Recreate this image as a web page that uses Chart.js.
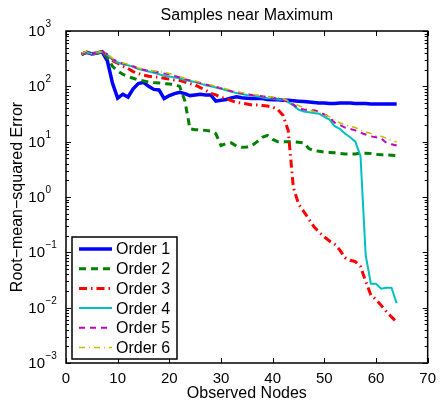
<!DOCTYPE html>
<html>
<head>
<meta charset="utf-8">
<script src="https://cdn.jsdelivr.net/npm/chart.js@4.4.1/dist/chart.umd.min.js"></script>
<style>
  html, body { margin: 0; padding: 0; background: #fff; }
  #wrap { width: 443px; height: 402px; }
</style>
</head>
<body>
<div id="wrap"><canvas id="chartRmse" width="443" height="402"></canvas></div>
<script>
// observed nodes (x)
const nodes = [3, 4, 5, 6, 7, 8, 9, 10, 11, 12, 13, 14, 15, 16, 17, 18, 19, 20, 21, 22,
  23, 24, 25, 26, 27, 28, 29, 30, 31, 32, 33, 34, 35, 36, 37, 38, 39, 40, 41, 42,
  43, 44, 45, 46, 47, 48, 49, 50, 51, 52, 53, 54, 55, 56, 57, 58, 59, 60, 61, 62, 63, 64];

const order1 = [380, 410, 385, 400, 420, 290, 114, 61, 72, 64, 90, 112, 118, 100, 88, 86, 60, 68, 74, 78,
  74, 68, 70, 72, 70, 70, 54, 56, 58, 62, 65, 62, 61, 60, 61, 60, 58, 57, 57, 56,
  56, 55, 54, 53, 52, 51, 50, 50, 49, 49, 50, 50, 50, 49, 49, 49, 48, 48, 48, 48, 48, 48];

const order2 = [380, 410, 385, 400, 420, 330, 230, 190, 165, 150, 140, 130, 125, 120, 117, 115, 112, 110, 108, 100,
  55, 17, 16.5, 16.3, 16, 15.5, 14, 8.5, 9.3, 9.5, 8.3, 7.9, 8, 8.5, 10, 12, 13, 11, 10, 10,
  10, 10, 9.8, 9.5, 7.5, 6.8, 6.7, 6.5, 6.4, 6.3, 6.1, 6.0, 6.0, 6.0, 6.2, 6.2, 6.1, 5.9, 5.8, 5.8, 5.7, 5.6];

const order3 = [380, 410, 385, 400, 420, 360, 290, 262, 230, 210, 185, 170, 160, 152, 148, 145, 140, 135, 130, 128,
  120, 112, 106, 95, 85, 75, 70, 63, 60, 55, 51, 50, 48, 46, 46, 45, 44, 42, 38, 30,
  16, 1.5, 0.75, 0.55, 0.4, 0.29, 0.23, 0.19, 0.16, 0.14, 0.11, 0.08, 0.072, 0.068, 0.055, 0.03, 0.017, 0.014, 0.011, 0.0085, 0.0068, 0.0055];

const order4 = [380, 410, 385, 400, 420, 370, 300, 270, 250, 240, 225, 205, 195, 185, 175, 165, 155, 150, 145, 140,
  130, 125, 120, 112, 105, 100, 95, 90, 85, 80, 76, 73, 70, 68, 66, 63, 61, 60, 58, 57,
  52, 45, 38, 35, 34, 33, 32, 28, 25, 19, 17, 14, 12, 10, 5.5, 0.09, 0.027, 0.027, 0.022, 0.023, 0.023, 0.012];

const order5 = [390, 420, 380, 410, 425, 380, 310, 280, 260, 245, 230, 210, 200, 190, 185, 180, 170, 165, 155, 145,
  135, 128, 122, 115, 108, 103, 98, 92, 88, 82, 78, 75, 72, 70, 68, 66, 64, 62, 60, 57,
  52, 47, 40, 38, 37, 37, 35, 31, 28, 22, 20, 18, 17, 16, 14.5, 13.5, 12.5, 12, 11.5, 9.5, 9, 8.5];

const order6 = [400, 430, 390, 415, 430, 390, 320, 285, 265, 250, 235, 215, 205, 195, 190, 185, 178, 170, 160, 150,
  140, 132, 125, 118, 112, 106, 100, 95, 90, 85, 80, 77, 74, 72, 70, 68, 66, 64, 62, 59,
  55, 50, 45, 41, 38, 35, 33, 31, 28, 24, 22, 20, 19, 18, 16, 15, 14, 13, 12.5, 11.5, 10.5, 10];

const seriesNames = ["Order 1", "Order 2", "Order 3", "Order 4", "Order 5", "Order 6"];
const seriesData = [order1, order2, order3, order4, order5, order6];

const xTicks = [0, 10, 20, 30, 40, 50, 60, 70];
const yExponents = [3, 2, 1, 0, -1, -2, -3];

// matlab-like line styles
const lineStyles = [
  { color: "#0000ff", width: 3.5, dash: [] },
  { color: "#008000", width: 3, dash: [7, 5] },
  { color: "#ff0000", width: 3, dash: [8, 4, 1.5, 4] },
  { color: "#00bfbf", width: 2, dash: [] },
  { color: "#bf00bf", width: 2, dash: [6, 5] },
  { color: "#bfbf00", width: 1.5, dash: [6, 4, 1, 4] }
];

const FONT = '"Liberation Sans", Arial, Helvetica, sans-serif';
Chart.defaults.font.family = FONT;
Chart.defaults.color = "#000";

function buildDatasets() {
  const ds = [];
  for (let i = 0; i < seriesData.length; i++) {
    const pts = [];
    for (let j = 0; j < nodes.length; j++) {
      pts.push({ x: nodes[j], y: seriesData[i][j] });
    }
    ds.push({
      label: seriesNames[i],
      data: pts,
      borderColor: lineStyles[i].color,
      borderWidth: lineStyles[i].width,
      borderDash: lineStyles[i].dash,
      pointRadius: 0,
      tension: 0,
      fill: false,
      order: seriesData.length - i // later series on top
    });
  }
  return ds;
}

function supText(n) {
  return n < 0 ? "\u2212" + Math.abs(n) : String(n);
}

// frame, inner ticks, y labels, titles, legend
const decorPlugin = {
  id: "decor",
  afterDatasetsDraw(chart) {
    const ctx = chart.ctx;
    const a = chart.chartArea;
    const xs = chart.scales.x;
    const ys = chart.scales.y;

    ctx.save();
    ctx.strokeStyle = "#000";
    ctx.lineWidth = 1;
    ctx.setLineDash([]);

    // x ticks top and bottom
    ctx.beginPath();
    for (let i = 0; i < xTicks.length; i++) {
      const px = Math.round(xs.getPixelForValue(xTicks[i])) + 0.5;
      ctx.moveTo(px, a.bottom); ctx.lineTo(px, a.bottom - 5);
      ctx.moveTo(px, a.top); ctx.lineTo(px, a.top + 5);
    }
    // y ticks, major + minor
    for (let e = -3; e <= 3; e++) {
      for (let m = 1; m <= 9; m++) {
        if (e === 3 && m > 1) break;
        const py = Math.round(ys.getPixelForValue(m * Math.pow(10, e))) + 0.5;
        const len = m === 1 ? 5 : 3;
        ctx.moveTo(a.left, py); ctx.lineTo(a.left + len, py);
        ctx.moveTo(a.right, py); ctx.lineTo(a.right - len, py);
      }
    }
    ctx.stroke();

    // box
    ctx.lineWidth = 1.5;
    ctx.strokeRect(a.left, a.top, a.right - a.left, a.bottom - a.top);

    // y tick labels 10^n
    ctx.fillStyle = "#000";
    for (let i = 0; i < yExponents.length; i++) {
      const py = ys.getPixelForValue(Math.pow(10, yExponents[i]));
      ctx.font = "15px " + FONT;
      ctx.textAlign = "right";
      ctx.textBaseline = "middle";
      ctx.fillText("10", 45, py + 1);
      ctx.font = "10px " + FONT;
      ctx.textAlign = "left";
      ctx.textBaseline = "alphabetic";
      ctx.fillText(supText(yExponents[i]), 45.5, py - 4);
    }

    // chart title
    ctx.font = "16px " + FONT;
    ctx.textAlign = "center";
    ctx.textBaseline = "middle";
    ctx.fillText("Samples near Maximum", (a.left + a.right) / 2, 16);

    // y axis title
    ctx.save();
    ctx.translate(18, (a.top + a.bottom) / 2);
    ctx.rotate(-Math.PI / 2);
    ctx.fillText("Root\u2212mean\u2212squared Error", 0, 0);
    ctx.restore();

    // legend box
    const lx = 72, ly = 237, lw = 105, lh = 122;
    ctx.fillStyle = "#fff";
    ctx.fillRect(lx, ly, lw, lh);
    ctx.lineWidth = 1.5;
    ctx.strokeStyle = "#000";
    ctx.strokeRect(lx, ly, lw, lh);
    ctx.font = "16px " + FONT;
    ctx.textAlign = "left";
    ctx.textBaseline = "middle";
    for (let i = 0; i < seriesNames.length; i++) {
      const ry = 249 + i * 19.7;
      ctx.strokeStyle = lineStyles[i].color;
      ctx.lineWidth = lineStyles[i].width;
      ctx.setLineDash(lineStyles[i].dash);
      ctx.beginPath();
      ctx.moveTo(79, ry);
      ctx.lineTo(112, ry);
      ctx.stroke();
      ctx.setLineDash([]);
      ctx.fillStyle = "#000";
      ctx.fillText(seriesNames[i], 116, ry + 1);
    }
    ctx.restore();
  }
};

const chartRmse = new Chart(document.getElementById("chartRmse").getContext("2d"), {
  type: "line",
  data: { datasets: buildDatasets() },
  options: {
    responsive: false,
    animation: false,
    events: [],
    layout: { padding: { top: 31, right: 11, left: 0, bottom: 0 } },
    plugins: {
      legend: { display: false },
      tooltip: { enabled: false },
      title: { display: false }
    },
    scales: {
      x: {
        type: "linear",
        min: 0,
        max: 70,
        grid: { display: false, drawTicks: false },
        border: { display: false },
        ticks: {
          stepSize: 10,
          padding: 7,
          maxRotation: 0,
          font: { size: 15 },
          color: "#000"
        },
        title: {
          display: true,
          text: "Observed Nodes",
          font: { size: 16, lineHeight: 1 },
          color: "#000",
          padding: { top: 0, bottom: 0 }
        },
        afterFit: function (s) { s.height = 39; }
      },
      y: {
        type: "logarithmic",
        min: 0.001,
        max: 1000,
        grid: { display: false, drawTicks: false },
        border: { display: false },
        ticks: { display: false },
        afterFit: function (s) { s.width = 66; }
      }
    }
  },
  plugins: [decorPlugin]
});
</script>
</body>
</html>
